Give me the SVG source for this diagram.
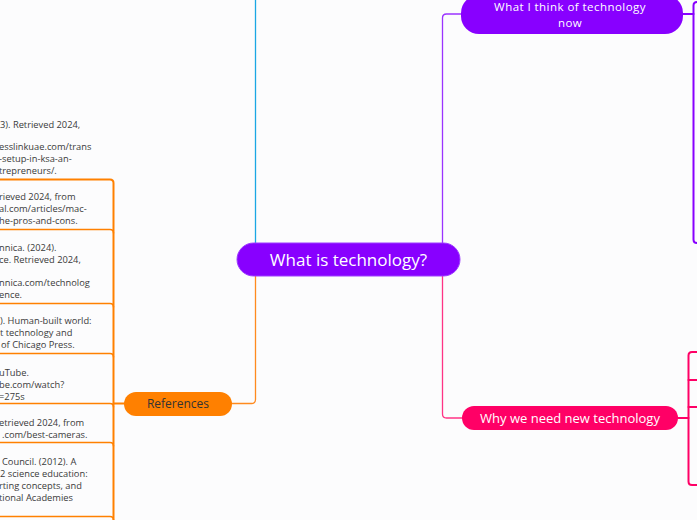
<svg xmlns="http://www.w3.org/2000/svg" width="697" height="520" viewBox="0 0 697 520">
<style>
text{font-family:"Open Sans","Liberation Sans",sans-serif}
.ref{font-size:9.3px;fill:#3a3a3a}
.tw{fill:#ffffff;text-anchor:middle}
.c{fill:none;stroke-linecap:round;stroke-linejoin:round}
.cb{stroke:#1aa7e4;stroke-width:1.3}
.cp{stroke:#9a33ff;stroke-width:1.3}
.co{stroke:#ff8a1f;stroke-width:1.3}
.ck{stroke:#ff3385;stroke-width:1.3}
.so{stroke:#ff8000;stroke-width:2}
.ul{stroke:#ff8000;stroke-width:1.5}
.sp{stroke:#8800ff;stroke-width:2}
.sk{stroke:#ff0066;stroke-width:2}
</style>
<rect width="697" height="520" fill="#fcfcfd"/>
<g id="connectors">
<path class="c cb" d="M255.5 243 V-2"/>
<path class="c cp" d="M442.5 243 V18 Q442.5 14 446.5 14 H461"/>
<path class="c co" d="M255.5 276 V399.5 Q255.5 403.5 251.5 403.5 H232"/>
<path class="c ck" d="M442.5 276 V414 Q442.5 418 446.5 418 H462"/>
<path class="c so" d="M124 403.5 H113.5"/>
<path class="c so" d="M-2 179.5 H110 Q113.5 179.5 113.5 183 V522"/>
<path class="c ul" d="M-2 229.5 H110 Q113.5 229.5 113.5 233"/>
<path class="c ul" d="M-2 303.5 H110 Q113.5 303.5 113.5 307"/>
<path class="c ul" d="M-2 353.5 H110 Q113.5 353.5 113.5 357"/>
<path class="c ul" d="M-2 403.5 H110 Q113.5 403.5 113.5 407"/>
<path class="c ul" d="M-2 442.5 H110 Q113.5 442.5 113.5 446"/>
<path class="c ul" d="M-2 516.5 H110 Q113.5 516.5 113.5 520"/>
<path class="c sp" d="M683 14 H693.5"/>
<path class="c sp" d="M699 2 H697 Q693.5 2 693.5 5.5 V239.5 Q693.5 243 697 243 H699"/>
<path class="c sk" d="M678 418 H688.5"/>
<path class="c sk" d="M699 352 H692 Q688.5 352 688.5 355.5 V481.5 Q688.5 485 692 485 H699"/>
<path class="c sk" d="M688.5 380 H699"/>
<path class="c sk" d="M688.5 407 H699"/>
</g>
<g id="central">
<rect x="237" y="243" width="223" height="33" rx="16.5" fill="#8800ff" stroke="#9d3dff" stroke-width="1"/>
<text class="tw" x="348.5" y="265.5" font-size="17">What is technology?</text>
</g>
<g id="what-i-think">
<rect x="461" y="-5" width="222" height="39" rx="18" fill="#8800ff"/>
<text class="tw" font-size="11.5" letter-spacing="0.45"><tspan x="570" y="11">What I think of technology</tspan><tspan x="570" y="27">now</tspan></text>
</g>
<g id="why-new">
<rect x="462" y="406" width="216" height="24" rx="12" fill="#ff0066"/>
<text class="tw" x="570" y="422.5" font-size="13">Why we need new technology</text>
</g>
<g id="references">
<rect x="124" y="392" width="108" height="24" rx="12" fill="#ff8000"/>
<text x="178" y="408" font-size="12" fill="#333" text-anchor="middle">References</text>
</g>
<g id="ref1">
<text class="ref" x="0" y="128">3). Retrieved 2024,</text>
<text class="ref" x="-1" y="150">esslinkuae.com/trans</text>
<text class="ref" x="-1" y="162">-setup-in-ksa-an-</text>
<text class="ref" x="-1" y="174">trepreneurs/.</text>
</g>
<g id="ref2">
<text class="ref" x="-1" y="200">rieved 2024, from</text>
<text class="ref" x="-1" y="212">al.com/articles/mac-</text>
<text class="ref" x="-1" y="224">he-pros-and-cons.</text>
</g>
<g id="ref3">
<text class="ref" x="-1" y="251">nnica. (2024).</text>
<text class="ref" x="-1" y="263">ce. Retrieved 2024,</text>
<text class="ref" x="-1" y="286">nnica.com/technolog</text>
<text class="ref" x="-1" y="298">ence.</text>
</g>
<g id="ref4">
<text class="ref" x="0" y="324">). Human-built world:</text>
<text class="ref" x="0" y="336">t technology and</text>
<text class="ref" x="1" y="348">of Chicago Press.</text>
</g>
<g id="ref5">
<text class="ref" x="-1" y="375.5">uTube.</text>
<text class="ref" x="-1" y="387.5">be.com/watch?</text>
<text class="ref" x="-1" y="399.5">=275s</text>
</g>
<g id="ref6">
<text class="ref" x="-1" y="426">etrieved 2024, from</text>
<text class="ref" x="2" y="438">.com/best-cameras.</text>
</g>
<g id="ref7">
<text class="ref" x="2" y="465">Council. (2012). A</text>
<text class="ref" x="0" y="477">2 science education:</text>
<text class="ref" x="-1" y="489">rting concepts, and</text>
<text class="ref" x="-1" y="501">tional Academies</text>
</g>
</svg>
